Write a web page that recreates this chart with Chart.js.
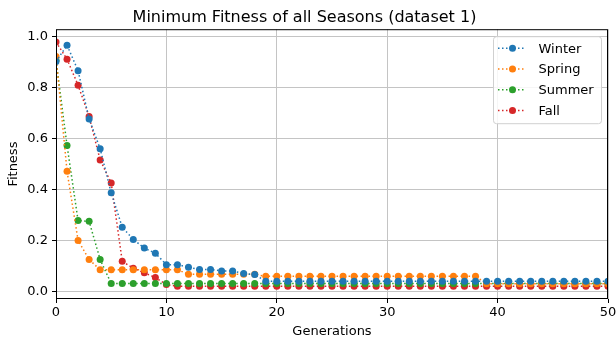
<!DOCTYPE html>
<html>
<head>
<meta charset="utf-8">
<script src="https://cdn.jsdelivr.net/npm/chart.js@4"></script>
<style>
    html, body { margin: 0; padding: 0; background: #fff; }
    #wrap { width: 616px; height: 342px; }
</style>
</head>
<body>
<div id="wrap"><canvas id="fitnessChart" width="616" height="342"></canvas></div>
<script>
// generations 0..50
const generations = Array.from({ length: 51 }, (_, i) => i);

const seasonNames = ['Winter', 'Spring', 'Summer', 'Fall'];
const seasonColors = ['#1f77b4', '#ff7f0e', '#2ca02c', '#d62728'];

const winter = [0.903, 0.967, 0.867, 0.677, 0.56, 0.387, 0.252, 0.204, 0.17, 0.15,
    0.105, 0.105, 0.095, 0.086, 0.086, 0.08, 0.08, 0.07, 0.066, 0.04,
    0.04, 0.04, 0.04, 0.04, 0.04, 0.04, 0.04, 0.04, 0.04, 0.04,
    0.04, 0.04, 0.04, 0.04, 0.04, 0.04, 0.04, 0.04, 0.04, 0.04,
    0.04, 0.04, 0.04, 0.04, 0.04, 0.04, 0.04, 0.04, 0.04, 0.04, 0.04];

const spring = [0.923, 0.472, 0.2, 0.125, 0.085, 0.085, 0.085, 0.085, 0.085, 0.085,
    0.085, 0.085, 0.067, 0.067, 0.067, 0.067, 0.067, 0.067, 0.067, 0.059,
    0.059, 0.059, 0.059, 0.059, 0.059, 0.059, 0.059, 0.059, 0.059, 0.059,
    0.059, 0.059, 0.059, 0.059, 0.059, 0.059, 0.059, 0.059, 0.059, 0.03,
    0.03, 0.03, 0.03, 0.03, 0.03, 0.03, 0.03, 0.03, 0.03, 0.03, 0.03];

const summer = [0.908, 0.573, 0.278, 0.275, 0.125, 0.031, 0.031, 0.031, 0.031, 0.031,
    0.031, 0.031, 0.031, 0.031, 0.031, 0.031, 0.031, 0.031, 0.031, 0.031,
    0.031, 0.031, 0.031, 0.031, 0.031, 0.031, 0.031, 0.031, 0.031, 0.031,
    0.031, 0.031, 0.031, 0.031, 0.031, 0.031, 0.031, 0.031, 0.031, 0.031,
    0.031, 0.031, 0.031, 0.031, 0.031, 0.031, 0.031, 0.031, 0.031, 0.031, 0.031];

const fall = [0.98, 0.912, 0.81, 0.687, 0.516, 0.426, 0.118, 0.091, 0.073, 0.054,
    0.027, 0.02, 0.02, 0.02, 0.02, 0.02, 0.02, 0.02, 0.02, 0.02,
    0.02, 0.02, 0.02, 0.02, 0.02, 0.02, 0.02, 0.02, 0.02, 0.02,
    0.02, 0.02, 0.02, 0.02, 0.02, 0.02, 0.02, 0.02, 0.02, 0.02,
    0.02, 0.02, 0.02, 0.02, 0.02, 0.02, 0.02, 0.02, 0.02, 0.02, 0.02];

const xTicks = [0, 10, 20, 30, 40, 50];
const yTicks = [0.0, 0.2, 0.4, 0.6, 0.8, 1.0];

const FONT = 'DejaVu Sans';

function makeDataset(label, values, color) {
    return {
        label: label,
        data: generations.map((g, i) => ({ x: g, y: values[i] })),
        borderColor: color,
        backgroundColor: color,
        borderWidth: 1.5,
        borderDash: [1.5, 2.5],
        pointRadius: 3.5,
        pointHoverRadius: 3.5,
        pointBorderWidth: 0,
        tension: 0
    };
}

// matplotlib-like frame + inline legend
const framePlugin = {
    id: 'frame',
    afterDraw(chart) {
        const { ctx, chartArea: a } = chart;
        ctx.save();
        ctx.strokeStyle = '#000';
        ctx.lineWidth = 1;
        ctx.strokeRect(a.left + 0.5, a.top + 0.5, a.right - a.left - 1, a.bottom - a.top - 1);

        // legend box in upper right
        const boxW = 108, boxH = 87;
        const bx = a.right - boxW - 7, by = a.top + 7;
        ctx.fillStyle = 'rgba(255,255,255,0.85)';
        ctx.strokeStyle = '#d0d0d0';
        ctx.beginPath();
        ctx.roundRect(bx + 0.5, by + 0.5, boxW, boxH, 3);
        ctx.fill();
        ctx.stroke();

        ctx.font = '13px "' + FONT + '"';
        ctx.textBaseline = 'middle';
        chart.data.datasets.forEach((ds, i) => {
            const y = by + 12 + i * 20.8;
            ctx.strokeStyle = ds.borderColor;
            ctx.lineWidth = 1.5;
            ctx.setLineDash([1.5, 2.5]);
            ctx.beginPath();
            ctx.moveTo(bx + 5, y);
            ctx.lineTo(bx + 31, y);
            ctx.stroke();
            ctx.setLineDash([]);
            ctx.fillStyle = ds.borderColor;
            ctx.beginPath();
            ctx.arc(bx + 19.5, y, 3.5, 0, Math.PI * 2);
            ctx.fill();
            ctx.fillStyle = '#000';
            ctx.fillText(ds.label, bx + 45.5, y + 1);
        });
        ctx.restore();
    }
};

const ctx = document.getElementById('fitnessChart').getContext('2d');
new Chart(ctx, {
    type: 'line',
    data: {
        datasets: [
            makeDataset(seasonNames[0], winter, seasonColors[0]),
            makeDataset(seasonNames[1], spring, seasonColors[1]),
            makeDataset(seasonNames[2], summer, seasonColors[2]),
            makeDataset(seasonNames[3], fall, seasonColors[3])
        ]
    },
    options: {
        responsive: false,
        animation: false,
        devicePixelRatio: 1,
        layout: { padding: { left: 1, right: 8, top: 0, bottom: 0 } },
        plugins: {
            legend: { display: false },
            tooltip: { enabled: false },
            title: {
                display: true,
                text: 'Minimum Fitness of all Seasons (dataset 1)',
                color: '#000',
                font: { family: FONT, size: 16, weight: 'normal' },
                padding: { top: 8, bottom: 2 }
            }
        },
        scales: {
            x: {
                type: 'linear',
                min: 0,
                max: 50,
                afterBuildTicks: scale => { scale.ticks = xTicks.map(v => ({ value: v })); },
                afterFit: scale => {
                    scale.height = 43;
                    scale.paddingRight = 0;
                    scale.paddingLeft = 0;
                },
                grid: {
                    color: '#c4c4c4',
                    lineWidth: 1,
                    drawTicks: true,
                    tickLength: 4,
                    tickColor: '#000'
                },
                border: { display: false },
                ticks: {
                    color: '#000',
                    font: { family: FONT, size: 13 },
                    padding: 2,
                    maxRotation: 0,
                    callback: v => v
                },
                title: {
                    display: true,
                    text: 'Generations',
                    color: '#000',
                    font: { family: FONT, size: 13 },
                    padding: { top: 0, bottom: 3 }
                }
            },
            y: {
                type: 'linear',
                min: -0.03,
                max: 1.03,
                afterBuildTicks: scale => { scale.ticks = yTicks.map(v => ({ value: v })); },
                afterFit: scale => { scale.width = 55; },
                grid: {
                    color: '#c4c4c4',
                    lineWidth: 1,
                    drawTicks: true,
                    tickLength: 4,
                    tickColor: '#000'
                },
                border: { display: false },
                ticks: {
                    color: '#000',
                    font: { family: FONT, size: 13 },
                    padding: 4,
                    callback: v => v.toFixed(1)
                },
                title: {
                    display: true,
                    text: 'Fitness',
                    color: '#000',
                    font: { family: FONT, size: 13 },
                    padding: { top: 5, bottom: 2 }
                }
            }
        }
    },
    plugins: [framePlugin]
});
</script>
</body>
</html>
